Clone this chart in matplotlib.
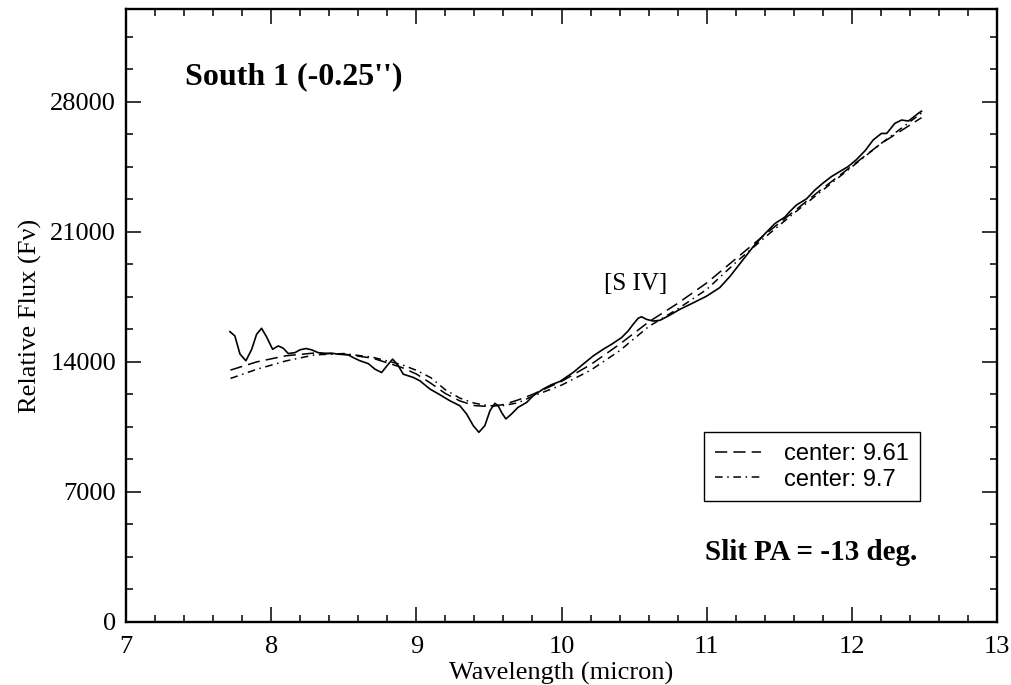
import matplotlib
matplotlib.use("Agg")
import matplotlib.pyplot as plt
from matplotlib.ticker import MultipleLocator

plt.rcParams['font.family'] = ['Liberation Serif', 'DejaVu Serif']

# observed spectrum
wave = [7.716, 7.75, 7.785, 7.826, 7.866, 7.90, 7.934, 7.969, 8.01, 8.049,
        8.083, 8.118, 8.164, 8.198, 8.24, 8.279, 8.324, 8.37, 8.417, 8.462,
        8.531, 8.566, 8.612, 8.669, 8.715, 8.761, 8.807, 8.837, 8.876, 8.91,
        8.98, 9.025, 9.094, 9.163, 9.231, 9.30, 9.346, 9.392, 9.431, 9.472,
        9.507, 9.541, 9.564, 9.587, 9.617, 9.656, 9.70, 9.76, 9.805, 9.874,
        9.93, 9.989, 10.08, 10.149, 10.218, 10.287, 10.345, 10.414, 10.459, 10.494,
        10.528, 10.551, 10.586, 10.632, 10.678, 10.735, 10.815, 10.907, 10.999, 11.09,
        11.16, 11.25, 11.32, 11.389, 11.47, 11.539, 11.573, 11.619, 11.688,
        11.745, 11.80, 11.86, 11.917, 11.975, 12.03, 12.09, 12.147, 12.204, 12.24,
        12.296, 12.342, 12.39, 12.42, 12.457, 12.48]
flux = [15630, 15400, 14430, 14060, 14680, 15490, 15810, 15340, 14680, 14860,
        14740, 14450, 14500, 14650, 14720, 14650, 14500, 14450, 14470, 14415,
        14380, 14230, 14060, 13910, 13610, 13430, 13880, 14150, 13790, 13340,
        13160, 12980, 12540, 12230, 11910, 11640, 11200, 10570, 10210, 10570,
        11370, 11770, 11640, 11280, 10930, 11200, 11550, 11820, 12180, 12540,
        12770, 12950, 13430, 13880, 14320, 14680, 14950, 15310, 15670, 16030,
        16350, 16430, 16290, 16200, 16240, 16470, 16830, 17180, 17540, 18000,
        18600, 19500, 20200, 20800, 21450, 21800, 22100, 22450, 22780,
        23250, 23620, 23980, 24250, 24520, 24880, 25360, 25950, 26300, 26300,
        26840, 27020, 26970, 27150, 27380, 27500]

# fit, center 9.61
fit1_wave = [7.72, 7.9, 8.1, 8.3, 8.5, 8.7, 8.9, 9.0, 9.1, 9.2, 9.3, 9.4, 9.5,
             9.6, 9.7, 9.8, 9.9, 10.0, 10.2, 10.4, 10.6, 10.8, 11.0, 11.2, 11.4,
             11.6, 11.8, 12.0, 12.2, 12.48]
fit1_flux = [13560, 14000, 14330, 14480, 14420, 14200, 13700, 13350, 12850, 12300,
             11900, 11650, 11600, 11700, 11950, 12250, 12600, 12950, 13850, 14950,
             16150, 17150, 18250, 19550, 20850, 22100, 23350, 24550, 25750, 27150]

# fit, center 9.7
fit2_wave = [7.72, 7.9, 8.1, 8.3, 8.5, 8.7, 8.9, 9.0, 9.1, 9.2, 9.3, 9.4, 9.5,
             9.6, 9.7, 9.8, 9.9, 10.0, 10.2, 10.4, 10.6, 10.8, 11.0, 11.2, 11.4,
             11.6, 11.8, 12.0, 12.2, 12.48]
fit2_flux = [13110, 13600, 14050, 14380, 14450, 14250, 13850, 13550, 13150, 12500,
             12050, 11780, 11640, 11650, 11800, 12150, 12450, 12750, 13550, 14600,
             15900, 16850, 17900, 19350, 20700, 22000, 23250, 24500, 25750, 27400]

fig = plt.figure(figsize=(10.11, 6.85), dpi=100)
ax = fig.add_axes([0.1246, 0.092, 0.8616, 0.8949])

ax.plot(wave, flux, color='black', lw=1.2)
ax.plot(fit1_wave, fit1_flux, color='black', lw=1.1, dashes=(8, 4), label='center: 9.61')
ax.plot(fit2_wave, fit2_flux, color='black', lw=1.1, dashes=(5, 3, 1, 3), label='center: 9.7')

ax.set_xlim(7, 13)
ax.set_ylim(0, 33000)
ax.xaxis.set_major_locator(MultipleLocator(1))
ax.xaxis.set_minor_locator(MultipleLocator(0.2))
ax.yaxis.set_major_locator(MultipleLocator(7000))
ax.yaxis.set_minor_locator(MultipleLocator(1750))
ax.tick_params(which='both', direction='in', top=True, right=True, width=1.1, labelsize=19)
ax.tick_params(which='major', length=11, pad=7)
ax.tick_params(axis='x', which='major', pad=10)
ax.tick_params(which='minor', length=5)
for s in ax.spines.values():
    s.set_linewidth(1.7)

ax.set_xlabel('Wavelength (micron)', fontsize=19, labelpad=3)
ax.set_ylabel('Relative Flux (F\u03bd)', fontsize=19, labelpad=6)

ax.text(7.406, 29350, "South 1 (-0.25'')", fontsize=23, fontweight='bold', va='center')
ax.text(10.99, 3755, 'Slit PA = -13 deg.', fontsize=21, fontweight='bold', va='center')
ax.text(10.51, 18190, '[S IV]', fontsize=18, ha='center', va='center')

leg = ax.legend(loc='lower left', bbox_to_anchor=(0.6636, 0.197), borderaxespad=0,
                prop={'family': 'Liberation Sans', 'size': 17}, fancybox=False,
                edgecolor='black', framealpha=1, handlelength=1.95, handletextpad=1.0,
                borderpad=0.45, labelspacing=0.15)
leg.get_frame().set_linewidth(1.0)

fig.savefig('out.png', dpi=100)
